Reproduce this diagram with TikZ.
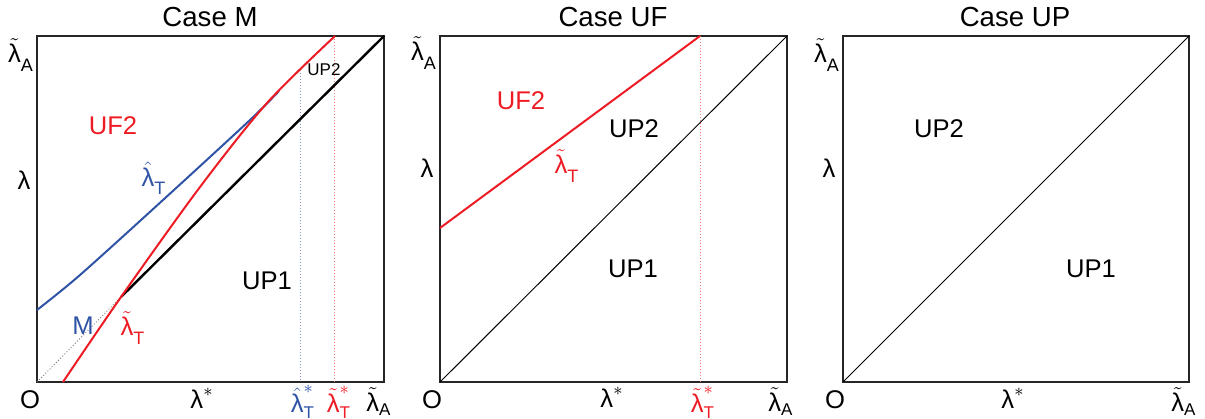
\documentclass[tikz,border=0pt]{standalone}
\usepackage{amsmath}
\usepackage{fontspec}
\setmainfont{Liberation Sans}
\definecolor{curvered}{RGB}{237,28,36}
\definecolor{curveblue}{RGB}{48,84,165}
\newcommand{\lamtil}{\tilde{\text{λ}}}
\newcommand{\lamhat}{\hat{\text{λ}}}
\newcommand{\lamup}{\text{λ}}
\newcommand{\lsub}[1]{_{\raisebox{-0.35ex}{\fontsize{9}{10}\selectfont #1}}}
\newcommand{\ltick}[1]{_{\raisebox{0ex}{\fontsize{8.5}{10}\selectfont #1}}}
\begin{document}
\begin{tikzpicture}[x=0.5pt, y=-0.5pt,
        font=\fontsize{12.8}{15}\selectfont,
        panel/.style={draw=black!85, line width=0.8pt},
        diag/.style={draw=black, line width=0.5pt},
        bound/.style={draw=black, line width=1.2pt},
        redcurve/.style={draw=curvered, line width=1pt},
        bluecurve/.style={draw=curveblue, line width=1pt},
        guide/.style={line width=0.4pt, dash pattern=on 0.5pt off 1pt},
        title/.style={font=\fontsize{13.8}{16}\selectfont},
        smalltext/.style={font=\fontsize{8.5}{10}\selectfont},
        ticklab/.style={anchor=north, inner sep=0.5pt}
    ]
    \useasboundingbox (0,0) rectangle (1205,418);

    % Case M
    \node[title] (titleM) at (210,17) {Case M};
    \draw[panel] (37,36) rectangle (384,382);
    \coordinate (originM) at (37,382);
    \coordinate (kinkM) at (121,297);
    \coordinate (cornerM) at (384,36);
    \draw[guide, draw=black!55] (originM) -- (kinkM);
    \draw[guide, draw=curveblue!60] (300,70) -- (300,382);
    \draw[guide, draw=curvered!60] (334,36) -- (334,382);
    \draw[bound] (kinkM) -- (cornerM);
    \draw[bluecurve] plot[smooth] coordinates {(37,310) (80,275) (163,200) (250,120) (279,91)};
    \draw[redcurve] plot[smooth] coordinates {(63,382) (121,297) (200,187) (267,103) (335,36)};

    \node[text=curvered] (uftwoM) at (113,126) {UF2};
    \node[text=curveblue] (hatM) at (154,178) {$\lamhat\lsub{T}$};
    \node[smalltext] (uptwoM) at (324,70) {UP2};
    \node (uponeM) at (267,281) {UP1};
    \node[text=curveblue] (mixM) at (83,326) {M};
    \node[text=curvered] (tilM) at (133,328) {$\lamtil\lsub{T}$};
    \node (ytopM) at (21,55) {$\lamtil\lsub{A}$};
    \node (ymidM) at (24,180) {$\lamup$};
    \node (oM) at (30,400) {O};
    \node (starM) at (202,398) {$\lamup^{*}$};
    \node[ticklab, text=curveblue] (hatstarM) at (303,384) {$\lamhat^{*}\ltick{T}$};
    \node[ticklab, text=curvered] (tilstarM) at (339,385) {$\lamtil^{*}\ltick{T}$};
    \node[ticklab] (xendM) at (379,386) {$\lamtil\ltick{A}$};

    % Case UF
    \node[title] (titleUF) at (613,17) {Case UF};
    \draw[panel] (440,36) rectangle (787,382);
    \coordinate (originUF) at (440,382);
    \coordinate (cornerUF) at (787,36);
    \coordinate (leftUF) at (440,228);
    \coordinate (topUF) at (700,36);
    \draw[guide, draw=curvered!60] (topUF) -- (700,382);
    \draw[diag] (originUF) -- (cornerUF);
    \draw[redcurve] (leftUF) -- (topUF);

    \node[text=curvered] (uftwoUF) at (521,101) {UF2};
    \node (uptwoUF) at (634,129) {UP2};
    \node[text=curvered] (tilUF) at (567,166) {$\lamtil\lsub{T}$};
    \node (uponeUF) at (633,269) {UP1};
    \node (ytopUF) at (424,53) {$\lamtil\lsub{A}$};
    \node (ymidUF) at (427,168) {$\lamup$};
    \node (oUF) at (432,400) {O};
    \node (starUF) at (612,397) {$\lamup^{*}$};
    \node[ticklab, text=curvered] (tilstarUF) at (703,385) {$\lamtil^{*}\ltick{T}$};
    \node[ticklab] (xendUF) at (781,386) {$\lamtil\ltick{A}$};

    % Case UP
    \node[title] (titleUP) at (1015,17) {Case UP};
    \draw[panel] (843,36) rectangle (1189,382);
    \coordinate (originUP) at (843,382);
    \coordinate (cornerUP) at (1189,36);
    \draw[diag] (originUP) -- (cornerUP);

    \node (uptwoUP) at (939,129) {UP2};
    \node (uponeUP) at (1091,269) {UP1};
    \node (ytopUP) at (827,55) {$\lamtil\lsub{A}$};
    \node (ymidUP) at (829,168) {$\lamup$};
    \node (oUP) at (835,400) {O};
    \node (starUP) at (1013,398) {$\lamup^{*}$};
    \node[ticklab] (xendUP) at (1184,386) {$\lamtil\ltick{A}$};
\end{tikzpicture}
\end{document}
